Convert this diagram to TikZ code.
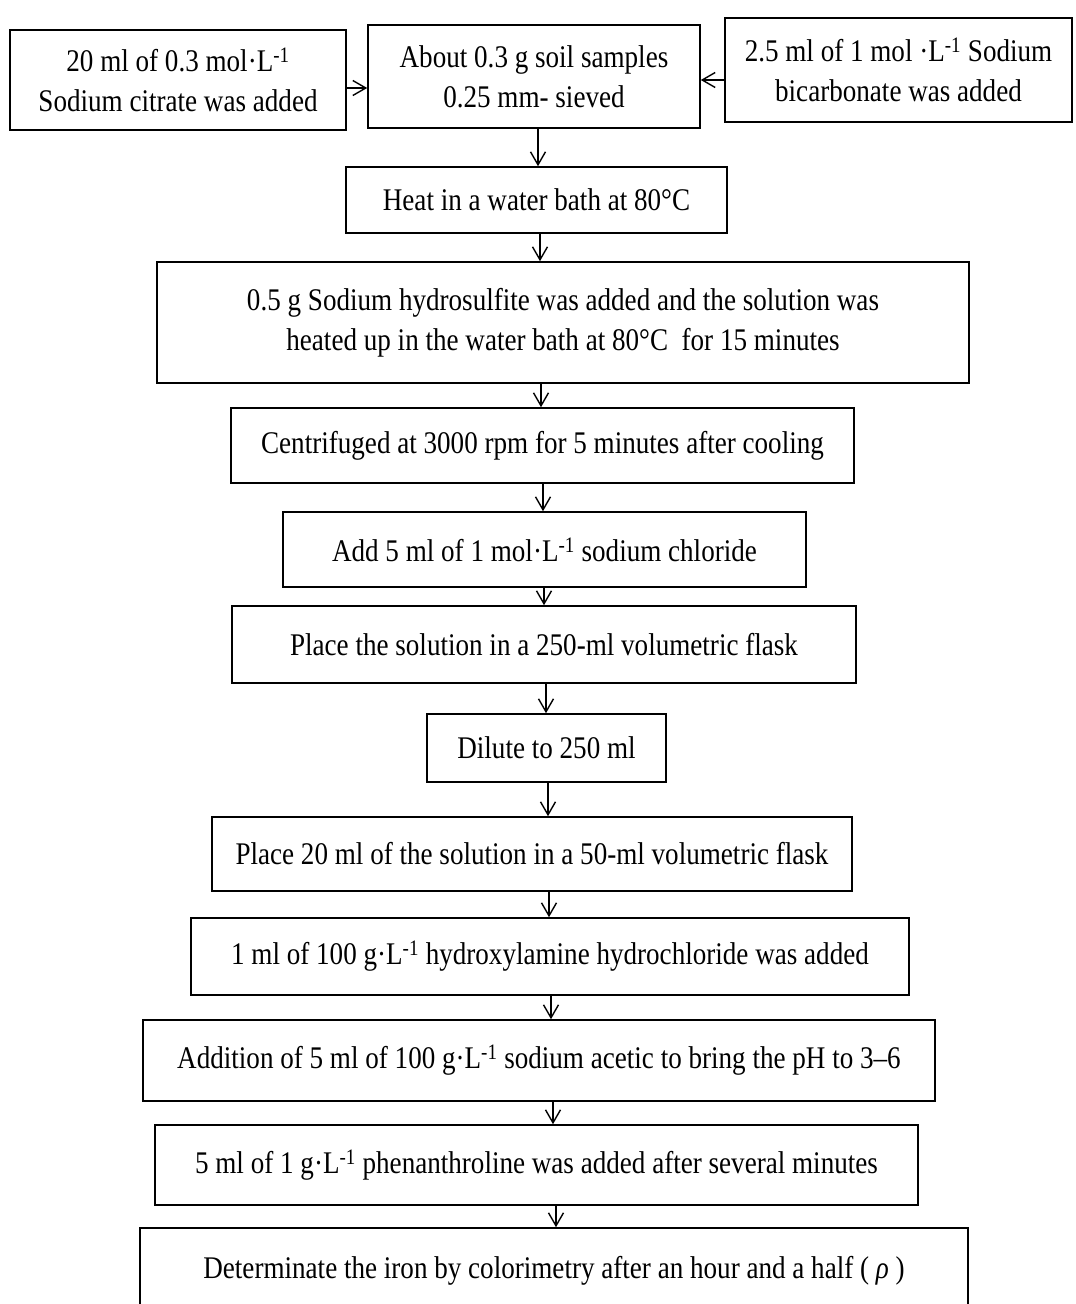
\documentclass[tikz,border=0pt]{standalone}
\usepackage{fontspec}
\setmainfont{Liberation Serif}[FakeStretch=0.86]
\usetikzlibrary{arrows.meta}
\newcommand{\perlitre}{\textsuperscript{-1}}
\begin{document}
\begin{tikzpicture}[x=1pt,y=-1pt,
  box/.style={draw, line width=1.6pt, align=center, inner sep=0pt,
    font=\fontsize{31.5}{40}\selectfont},
  arr/.style={line width=1.4pt, -{Straight Barb[length=13pt,width=15pt]}}]
\fill[white] (0,0) rectangle (1076,1304);
\useasboundingbox (0,0) rectangle (1076,1304);

% top row: reagents feeding the soil sample
\node[box, minimum width=336pt, minimum height=100pt] (cit) at (178,80)
  {20 ml of 0.3 mol·L\perlitre\\Sodium citrate was added};
\node[box, minimum width=332pt, minimum height=103pt] (soil) at (534,76.5)
  {About 0.3 g soil samples\\0.25 mm- sieved};
\node[box, minimum width=347pt, minimum height=104pt] (bic) at (898.5,70)
  {2.5 ml of 1 mol ·L\perlitre{} Sodium\\bicarbonate was added};

% procedure steps
\node[box, minimum width=381pt, minimum height=66pt] (heat) at (536.5,200)
  {Heat in a water bath at 80°C};
\node[box, minimum width=812pt, minimum height=121pt] (hydro) at (563,322.5)
  {0.5 g Sodium hydrosulfite was added and the solution was\\heated up in the water bath at 80°C\ \ for 15 minutes};
\node[box, minimum width=623pt, minimum height=75pt] (cent) at (542.5,445.5)
  {Centrifuged at 3000 rpm for 5 minutes after cooling};
\node[box, minimum width=523pt, minimum height=75pt] (nacl) at (544.5,549.5)
  {Add 5 ml of 1 mol·L\perlitre{} sodium chloride};
\node[box, minimum width=624pt, minimum height=77pt] (flask) at (544,644.5)
  {Place the solution in a 250-ml volumetric flask};
\node[box, minimum width=239pt, minimum height=68pt] (dil) at (546.5,748)
  {Dilute to 250 ml};
\node[box, minimum width=640pt, minimum height=74pt] (twenty) at (532,854)
  {Place 20 ml of the solution in a 50-ml volumetric flask};
\node[box, minimum width=718pt, minimum height=77pt] (hyd) at (550,956.5)
  {1 ml of 100 g·L\perlitre{} hydroxylamine hydrochloride was added};
\node[box, minimum width=792pt, minimum height=81pt] (acet) at (539,1060.5)
  {Addition of 5 ml of 100 g·L\perlitre{} sodium acetic to bring the pH to 3–6};
\node[box, minimum width=763pt, minimum height=80pt] (phen) at (536.5,1165)
  {5 ml of 1 g·L\perlitre{} phenanthroline was added after several minutes};
\node[box, minimum width=828pt, minimum height=86pt] (det) at (554,1271)
  {Determinate the iron by colorimetry after an hour and a half ( \textit{ρ} )};

% connectors
\draw[arr] (cit.east |- 0,88) -- (soil.west |- 0,88);
\draw[arr] (bic.west |- 0,80) -- (soil.east |- 0,80);
\draw[arr] (soil.south -| 538,0) -- (heat.north -| 538,0);
\draw[arr] (heat.south -| 540,0) -- (hydro.north -| 540,0);
\draw[arr] (hydro.south -| 541,0) -- (cent.north -| 541,0);
\draw[arr] (cent.south -| 543,0) -- (nacl.north -| 543,0);
\draw[arr] (nacl.south -| 544,0) -- (flask.north -| 544,0);
\draw[arr] (flask.south -| 546,0) -- (dil.north -| 546,0);
\draw[arr] (dil.south -| 548,0) -- (twenty.north -| 548,0);
\draw[arr] (twenty.south -| 549,0) -- (hyd.north -| 549,0);
\draw[arr] (hyd.south -| 551,0) -- (acet.north -| 551,0);
\draw[arr] (acet.south -| 553,0) -- (phen.north -| 553,0);
\draw[arr] (phen.south -| 556,0) -- (det.north -| 556,0);
\end{tikzpicture}
\end{document}
